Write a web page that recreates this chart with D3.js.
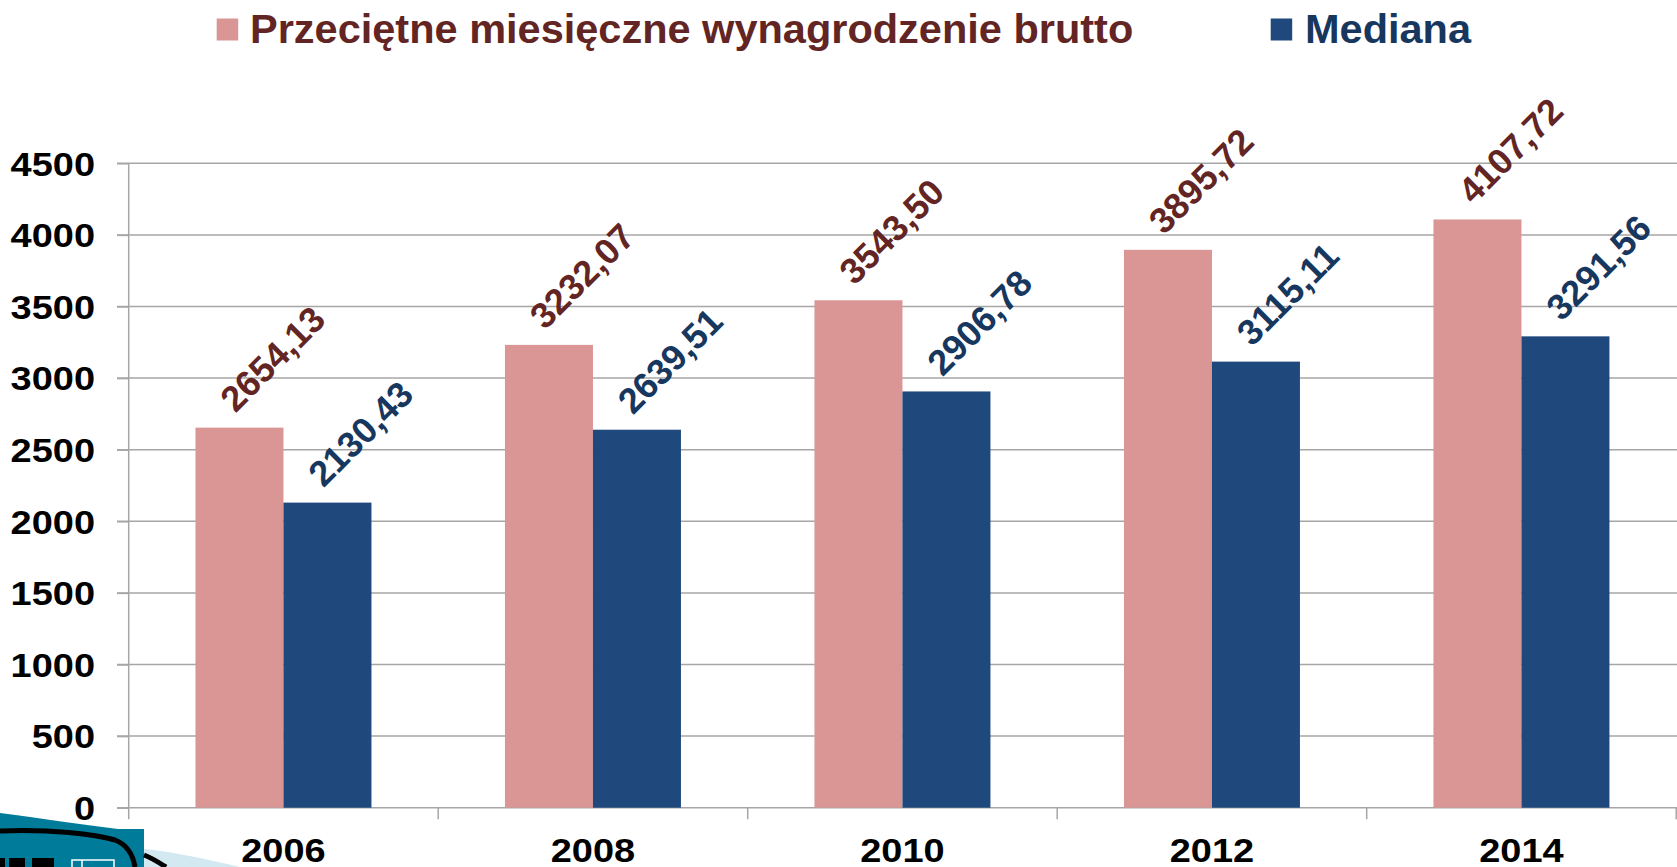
<!DOCTYPE html>
<html><head><meta charset="utf-8">
<script src="https://cdn.jsdelivr.net/npm/d3@7"></script>
<style>html,body{margin:0;padding:0;background:#fff;overflow:hidden}svg{display:block}text{font-family:"Liberation Sans",Arial,sans-serif;font-weight:bold}</style>
</head><body>
<script>
const years = ["2006","2008","2010","2012","2014"];
const seriesNames = ["Przeciętne miesięczne wynagrodzenie brutto","Mediana"];
const avgWage = [2654.13, 3232.07, 3543.50, 3895.72, 4107.72];
const medianWage = [2130.43, 2639.51, 2906.78, 3115.11, 3291.56];
const yTicks = [0,500,1000,1500,2000,2500,3000,3500,4000,4500];

const W = 1677, H = 867;
const barColors = ["#D99694","#1F497D"];
const textColors = ["#632523","#17375E"];
const gridColor = "#A6A6A6";

const svg = d3.select("body").append("svg").attr("width",W).attr("height",H);

const x = d3.scaleBand().domain(years).range([128.7, 1676.2]).padding(0);
const xs = d3.scaleBand().domain([0,1]).range([66.75, 242.75]).padding(0);
const y = d3.scaleLinear().domain([0,4500]).range([807.7,163.3]);

// gridlines
svg.append("g").selectAll("line").data(yTicks.slice(1)).join("line")
  .attr("x1",117).attr("x2",W).attr("y1",d=>y(d)).attr("y2",d=>y(d))
  .attr("stroke",gridColor).attr("stroke-width",1.5);

// y axis
const yAxis = svg.append("g").attr("transform","translate(128.7,0)")
  .call(d3.axisLeft(y).tickValues(yTicks).tickSize(11.7).tickPadding(0).tickFormat(d3.format("d")));
yAxis.select(".domain").attr("stroke",gridColor).attr("stroke-width",1.5).attr("d","M0,163.3V807.7");
yAxis.selectAll(".tick line").attr("stroke",gridColor).attr("stroke-width",1.5);
yAxis.selectAll(".tick text").attr("fill","#000").attr("font-size",33)
  .attr("font-family","Liberation Sans, Arial, sans-serif").attr("font-weight","bold")
  .attr("x",-33.7/1.15).attr("dy","0.36em").attr("transform","scale(1.15,1)");

// x axis
svg.append("line").attr("x1",117).attr("x2",W).attr("y1",y(0)).attr("y2",y(0))
  .attr("stroke",gridColor).attr("stroke-width",1.5);
const bounds = years.map(d=>x(d)).concat([x.range()[1]]);
svg.append("g").selectAll("line").data(bounds).join("line")
  .attr("x1",d=>d).attr("x2",d=>d).attr("y1",y(0)).attr("y2",y(0)+11.5)
  .attr("stroke",gridColor).attr("stroke-width",1.5);
svg.append("g").selectAll("text").data(years).join("text")
  .attr("transform",d=>`translate(${x(d)+x.bandwidth()/2},861.7) scale(1.15,1)`)
  .attr("text-anchor","middle").attr("font-size",33).attr("fill","#000").text(d=>d);

// bars
const series = [avgWage, medianWage];
series.forEach((vals,si)=>{
  const g = svg.append("g");
  g.selectAll("rect").data(vals).join("rect")
    .attr("x",(d,i)=>x(years[i])+xs(si)).attr("width",xs.bandwidth())
    .attr("y",d=>y(d)).attr("height",d=>y(0)-y(d)).attr("fill",barColors[si]);
  g.selectAll("text").data(vals).join("text")
    .attr("transform",(d,i)=>`translate(${x(years[i])+xs(si)+xs.bandwidth()/2-4},${y(d)-14}) rotate(-45)`)
    .attr("font-size",36).attr("fill",textColors[si])
    .text(d=>d.toFixed(2).replace(".",","));
});

// legend
const legend = [{x:216.7,tx:250},{x:1270.7,tx:1305}];
legend.forEach((l,i)=>{
  svg.append("rect").attr("x",l.x).attr("y",18.5).attr("width",21.5).attr("height",22).attr("fill",barColors[i]);
  svg.append("text").attr("x",l.tx).attr("y",42.7).attr("font-size",41.5).attr("fill",textColors[i]).text(seriesNames[i]);
});

// decorative logo bottom-left
const logo = svg.append("g");
logo.append("path").attr("d","M0,813 C40,818 90,826 144,832 L144,867 L0,867 Z").attr("fill","#007B9A");
logo.append("path").attr("d","M144,849 C175,852 210,860 240,867 L144,867 Z").attr("fill","#D3E9F1");
logo.append("rect").attr("x",0).attr("y",829).attr("width",144).attr("height",38).attr("fill","#007B9A");
logo.append("path").attr("d","M0,831 C50,829 95,834 115,840 C128,845 133,855 135,867").attr("fill","none").attr("stroke","#000").attr("stroke-width",5);
logo.append("path").attr("d","M144,855 C152,858 158,862 166,867").attr("fill","none").attr("stroke","#000").attr("stroke-width",5);
[[0,5],[9,16],[32,22]].forEach(r=>logo.append("rect").attr("x",r[0]).attr("y",858).attr("width",r[1]).attr("height",9).attr("fill","#000"));
logo.append("rect").attr("x",72).attr("y",860).attr("width",42).attr("height",9).attr("fill","none").attr("stroke","#fff").attr("stroke-width",1.5);
logo.append("line").attr("x1",82).attr("x2",82).attr("y1",860).attr("y2",867).attr("stroke","#fff").attr("stroke-width",1.5);
</script>
</body></html>
